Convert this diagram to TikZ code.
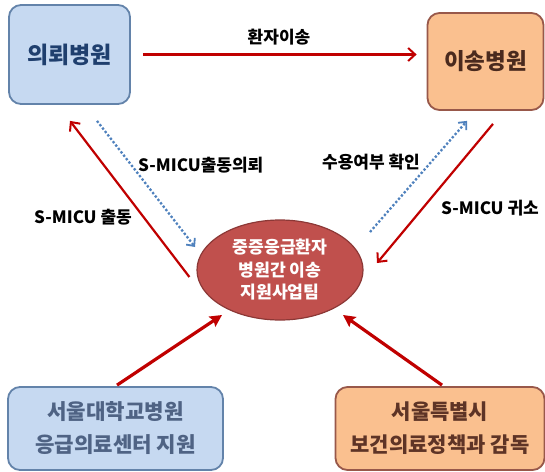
\documentclass[tikz,border=0pt]{standalone}
\usepackage{fontspec}
\setmainfont{Noto Sans CJK KR}
\usetikzlibrary{arrows.meta,shapes.geometric}
\definecolor{bfill}{HTML}{C6D9F1}
\definecolor{bdraw}{HTML}{6383AA}
\definecolor{btext}{HTML}{1F3F6E}
\definecolor{btext2}{HTML}{4F6384}
\definecolor{ofill}{HTML}{FAC08F}
\definecolor{odraw}{HTML}{98584A}
\definecolor{otext}{HTML}{4A2A1E}
\definecolor{otext2}{HTML}{5E3426}
\definecolor{efill}{HTML}{C0504D}
\definecolor{edraw}{HTML}{8C3836}
\definecolor{ared}{HTML}{C00000}
\definecolor{ablue}{HTML}{4F81BD}
\tikzset{
  boxb/.style={draw=bdraw,fill=bfill,line width=1.8pt,rounded corners=12pt,inner sep=0pt,align=center},
  boxo/.style={draw=odraw,fill=ofill,line width=1.8pt,rounded corners=12pt,inner sep=0pt,align=center},
  redarr/.style={draw=ared,line width=2.2pt,-{Straight Barb[length=7pt,width=13pt,line width=2pt]}},
  redthick/.style={draw=ared,line width=3.2pt,-{Stealth[length=12pt,width=12pt,inset=2pt]}},
  bluearr/.style={draw=ablue,line width=2.3pt,dotted,-{Straight Barb[length=6pt,width=11pt,line width=1.8pt]}},
  lbl/.style={font=\fontsize{17}{19}\selectfont\bfseries,text=black,inner sep=0pt}
}
\begin{document}
\begin{tikzpicture}[x=1pt,y=-1pt]
\useasboundingbox (0,0) rectangle (545,471);
\node[boxb,minimum width=121pt,minimum height=99pt,text=btext,font=\fontsize{23}{27}\selectfont\bfseries] (A) at (69.5,54.5) {의뢰병원};
\node[boxo,minimum width=116pt,minimum height=97pt,text=otext,font=\fontsize{22.5}{26}\selectfont\bfseries] (B) at (485.5,61.5) {이송병원};
\node[ellipse,draw=edraw,fill=efill,line width=1.2pt,minimum width=166pt,minimum height=100pt,inner sep=0pt,align=center,text=white,font=\fontsize{17.2}{22.5}\selectfont\bfseries] (C) at (280,270) {중증응급환자\\병원간 이송\\지원사업팀};
\node[boxb,minimum width=215pt,minimum height=83pt,text=btext2,font=\fontsize{21.2}{33}\selectfont\bfseries] (D) at (115.5,428.5) {서울대학교병원\\응급의료센터 지원};
\node[boxo,minimum width=209pt,minimum height=83pt,text=otext2,font=\fontsize{21}{33}\selectfont\bfseries] (E) at (440,428.5) {서울특별시\\보건의료정책과 감독};
% connectors
\draw[redarr] ([xshift=12pt]A.east) -- ([xshift=-10pt]B.west |- A.east);
\draw[redarr] ([shift={(-7,7)}]C.west) -- ([shift={(0.5,16)}]A.south);
\draw[bluearr] ([shift={(27.5,16)}]A.south) -- ([shift={(-85,-23)}]C.center);
\draw[bluearr] ([shift={(90,-38)}]C.center) -- ([shift={(-18.5,10)}]B.south);
\draw[redarr] ([shift={(7.5,13)}]B.south) -- ([shift={(97,-7)}]C.center);
\draw[redthick] ([shift={(1.5,-1)}]D.north) -- ([shift={(-58,45)}]C.center);
\draw[redthick] ([shift={(2,-1)}]E.north) -- ([shift={(63,45)}]C.center);
% labels
\node[lbl] (l1) at (279,37) {환자이송};
\node[lbl,anchor=west] (l2) at (138,165) {S-MICU출동의뢰};
\node[lbl] (l3) at (371,162) {수용여부 확인};
\node[lbl] (l4) at (83,217) {S-MICU 출동};
\node[lbl] (l5) at (490,208) {S-MICU 귀소};
\end{tikzpicture}
\end{document}
